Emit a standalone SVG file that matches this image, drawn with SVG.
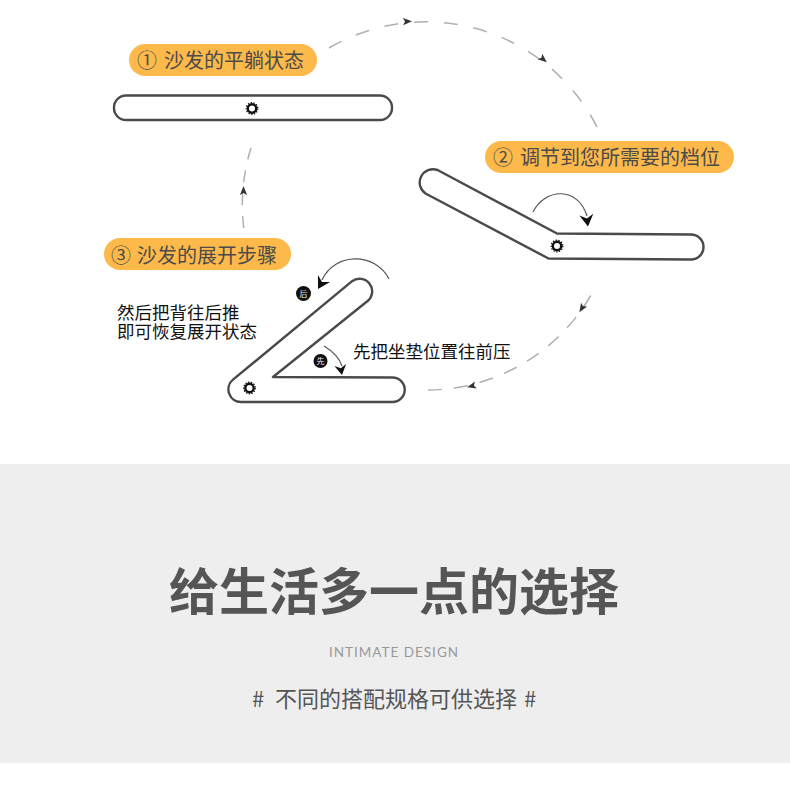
<svg xmlns="http://www.w3.org/2000/svg" width="790" height="792" viewBox="0 0 790 792">
<style>
text{font-family:"Noto Sans CJK SC","Liberation Sans",sans-serif}
.sofa{fill:#fff;stroke:#4a4a4a;stroke-width:2.4;stroke-linejoin:round}
.pill{fill:#fdb94a}
.pt{font-size:20px;fill:#4b4b4b}
.note{font-size:17.5px;fill:#111}
.dash{fill:none;stroke:#b0b0b0;stroke-width:1.5;stroke-dasharray:14 15.870}
.move{fill:none;stroke:#555;stroke-width:1.2}
.gh{fill:#fff;stroke:#111;stroke-width:2.4}
.gt{fill:none;stroke:#111;stroke-width:1.2;stroke-dasharray:1.4 1.4}
.bd{fill:#111}
.bt{font-size:8px;fill:#eee;text-anchor:middle}
</style>
<defs>
<polygon id="tip" points="5,0 -4,-3.6 -2,0 -4,3.6" fill="#333"/>
<polygon id="big" points="0,0 -12,-7 -8,0 -12,7" fill="#111"/>
<g id="gear"><circle class="gt" r="5.800"/><circle class="gh" r="4.200"/></g>
</defs>
<rect width="790" height="792" fill="#fff"/>
<rect id="band" x="0" y="464" width="790" height="299" fill="#eeeeee"/>
<g id="connectors">
<path class="dash" d="M329 48A192 192 0 0 1 597 127"/>
<path class="dash" d="M428 390A190 190 0 0 0 591 295" style="stroke-dasharray:14 12.100"/>
<path class="dash" d="M251 148A190 190 0 0 0 244 230" style="stroke-dasharray:12 11"/>
<use href="#tip" transform="translate(407 21.500) rotate(-3)"/>
<use href="#tip" transform="translate(543 59) rotate(40)"/>
<use href="#tip" transform="translate(582 308) rotate(122)"/>
<use href="#tip" transform="translate(472 386) rotate(165)"/>
<use href="#tip" transform="translate(243.500 191) rotate(-90)"/>
<path class="move" d="M533 212C545 188 578 186 587 216"/>
<use href="#big" transform="translate(588 226.500) rotate(82)"/>
<path class="move" d="M389 279C375 252 335 252 322 280"/>
<use href="#big" transform="translate(318 289) rotate(120)"/>
<path class="move" d="M324 346C334 352 340 360 342 366"/>
<use href="#big" transform="translate(342 375) rotate(80) scale(.85)"/>
</g>
<g id="node-flat">
<rect class="pill" x="129" y="44" width="188" height="32" rx="16"/>
<text class="pt" x="137" y="68">①</text><text class="pt" x="164" y="68">沙发的平躺状态</text>
<rect class="sofa" x="114" y="95.500" width="278" height="24.500" rx="12"/>
<use href="#gear" x="252" y="108.500"/>
</g>
<g id="node-adjust">
<rect class="pill" x="485" y="141" width="249" height="32" rx="16"/>
<text class="pt" x="493" y="165">②</text><text class="pt" x="520" y="165">调节到您所需要的档位</text>
<path class="sofa" d="M557 233.500L691 234.500A12.500 12.500 0 0 1 691 259.500L548.500 258.500L425.500 193.500A13.300 13.300 0 0 1 437.500 170Z"/>
<use href="#gear" x="557" y="246"/>
</g>
<g id="node-open">
<rect class="pill" x="104" y="238" width="187" height="32" rx="16"/>
<text class="pt" x="111" y="263">③</text><text class="pt" x="137" y="263">沙发的展开步骤</text>
<path class="sofa" d="M273 377L392.500 377.500A12.250 12.250 0 0 1 392.500 402L241 402A12.600 12.600 0 0 1 233 379.700L352.100 281.200A12.600 12.600 0 0 1 367.900 300.800Z"/>
<use href="#gear" x="249.500" y="388"/>
<circle class="bd" cx="303.500" cy="293.500" r="7.500"/><text class="bt" x="303.500" y="296.500">后</text>
<circle class="bd" cx="320.500" cy="361" r="7"/><text class="bt" x="320.500" y="364">先</text>
<text class="note"><tspan x="117" y="319">然后把背往后推</tspan><tspan x="117" y="338">即可恢复展开状态</tspan></text>
<text class="note" x="353" y="358">先把坐垫位置往前压</text>
</g>
<g id="caption">
<text x="394" y="610" text-anchor="middle" font-size="50" font-weight="700" fill="#555">给生活多一点的选择</text>
<text x="394" y="657" text-anchor="middle" style="font-family:Lato,'Liberation Sans',sans-serif" font-size="13.500" letter-spacing="1" fill="#999">INTIMATE DESIGN</text>
<text x="252" y="707" font-size="22" fill="#555">#</text>
<text x="275" y="707" font-size="22" fill="#555">不同的搭配规格可供选择</text>
<text x="524" y="707" font-size="22" fill="#555">#</text>
</g>
</svg>
